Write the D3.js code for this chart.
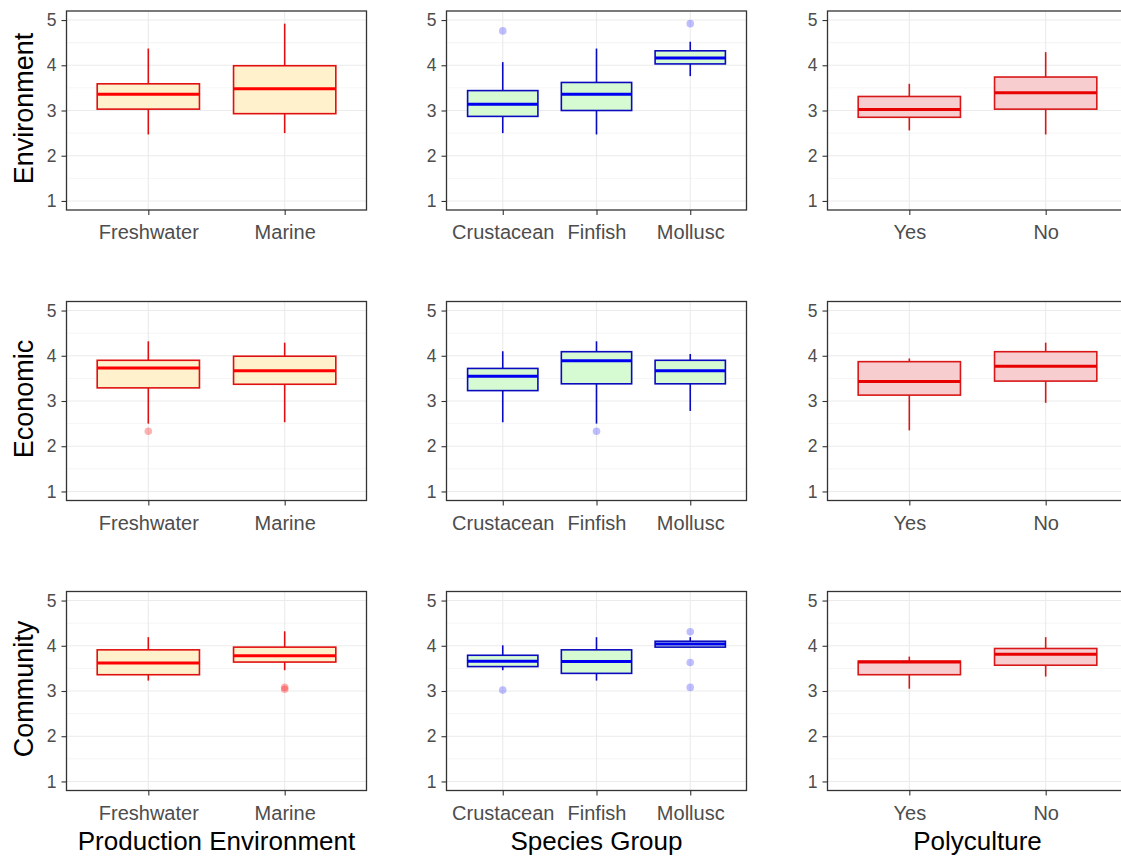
<!DOCTYPE html>
<html>
<head>
<meta charset="utf-8">
<script src="https://cdn.jsdelivr.net/npm/d3@7"></script>
<style>
  html, body { margin: 0; padding: 0; background: #ffffff; }
  svg { display: block; font-family: "Liberation Sans", Arial, sans-serif; }
</style>
</head>
<body>
<svg id="chart" width="1121" height="856"></svg>
<script>
// ---------------- data ----------------
const rowLabels = ["Environment", "Economic", "Community"];
const colTitles = ["Production Environment", "Species Group", "Polyculture"];

const productionCats = ["Freshwater", "Marine"];
const speciesCats = ["Crustacean", "Finfish", "Mollusc"];
const polyCats = ["Yes", "No"];

const yTicks = [1, 2, 3, 4, 5];
const yMinorTicks = [1.5, 2.5, 3.5, 4.5];

// box stats per category: [lower whisker, Q1, median, Q3, upper whisker]
const envProduction = [[2.47, 3.03, 3.36, 3.59, 4.37], [2.50, 2.93, 3.48, 3.99, 4.92]];
const envProductionOut = [[], []];
const envSpecies = [[2.50, 2.87, 3.14, 3.44, 4.07], [2.47, 3.00, 3.36, 3.62, 4.37], [3.76, 4.03, 4.16, 4.32, 4.52]];
const envSpeciesOut = [[4.76], [], [4.92]];
const envPoly = [[2.56, 2.85, 3.02, 3.31, 3.59], [2.47, 3.03, 3.39, 3.74, 4.29]];
const envPolyOut = [[], []];

const ecoProduction = [[2.50, 3.29, 3.73, 3.90, 4.32], [2.53, 3.37, 3.67, 3.99, 4.29]];
const ecoProductionOut = [[2.33], []];
const ecoSpecies = [[2.53, 3.23, 3.55, 3.72, 4.10], [2.50, 3.38, 3.89, 4.09, 4.32], [2.78, 3.38, 3.67, 3.90, 4.04]];
const ecoSpeciesOut = [[], [2.33], []];
const ecoPoly = [[2.35, 3.13, 3.43, 3.87, 3.94], [2.96, 3.44, 3.77, 4.09, 4.29]];
const ecoPolyOut = [[], []];

const comProduction = [[3.23, 3.36, 3.62, 3.91, 4.19], [3.46, 3.64, 3.78, 3.97, 4.32]];
const comProductionOut = [[], [3.08, 3.04]];
const comSpecies = [[3.46, 3.54, 3.66, 3.79, 4.01], [3.23, 3.39, 3.65, 3.91, 4.19], [3.97, 3.97, 4.04, 4.10, 4.19]];
const comSpeciesOut = [[3.02], [], [4.31, 3.63, 3.08]];
const comPoly = [[3.05, 3.36, 3.64, 3.66, 3.76], [3.32, 3.57, 3.81, 3.94, 4.19]];
const comPolyOut = [[], []];

// ---------------- styles ----------------
const colStyles = [
  { fill: "#FFF1CC", stroke: "#E01010", median: "#FF0000", out: "rgba(255,0,0,0.3)" },
  { fill: "#D6FBD2", stroke: "#0A0ABF", median: "#0000F0", out: "rgba(0,0,255,0.25)" },
  { fill: "#F8CDD0", stroke: "#D81818", median: "#E80000", out: "rgba(255,0,0,0.3)" }
];

const panels = [
  [[productionCats, envProduction, envProductionOut], [speciesCats, envSpecies, envSpeciesOut], [polyCats, envPoly, envPolyOut]],
  [[productionCats, ecoProduction, ecoProductionOut], [speciesCats, ecoSpecies, ecoSpeciesOut], [polyCats, ecoPoly, ecoPolyOut]],
  [[productionCats, comProduction, comProductionOut], [speciesCats, comSpecies, comSpeciesOut], [polyCats, comPoly, comPolyOut]]
];

// ---------------- layout ----------------
const colLeft = [66.5, 446.5, 827.5];
const rowTop = [11, 301.5, 591.5];
const PW = 300, PH = 199;

const svg = d3.select("#chart");

panels.forEach((row, ri) => {
  row.forEach(([cats, stats, outs], ci) => {
    const x0 = colLeft[ci], y0 = rowTop[ri];
    const st = colStyles[ci];
    const g = svg.append("g").attr("transform", `translate(${x0},${y0})`);

    const x = d3.scalePoint().domain(cats).range([0, PW]).padding(0.6);
    const y = d3.scaleLinear().domain([0.8, 5.2]).range([PH, 0]);
    const bw = x.step() * 0.75;

    // grid
    g.append("g").selectAll("line.minor").data(yMinorTicks).join("line")
      .attr("x1", 0).attr("x2", PW).attr("y1", d => y(d)).attr("y2", d => y(d))
      .attr("stroke", "#F3F3F3").attr("stroke-width", 0.8);
    g.append("g").selectAll("line.major").data(yTicks).join("line")
      .attr("x1", 0).attr("x2", PW).attr("y1", d => y(d)).attr("y2", d => y(d))
      .attr("stroke", "#EBEBEB").attr("stroke-width", 1.1);
    g.append("g").selectAll("line.vmajor").data(cats).join("line")
      .attr("x1", d => x(d)).attr("x2", d => x(d)).attr("y1", 0).attr("y2", PH)
      .attr("stroke", "#EBEBEB").attr("stroke-width", 1.1);

    // boxes
    const boxes = g.append("g").selectAll("g.box").data(cats.map((c, i) => ({ c, s: stats[i], o: outs[i] })))
      .join("g");
    boxes.append("line")
      .attr("x1", d => x(d.c)).attr("x2", d => x(d.c))
      .attr("y1", d => y(d.s[4])).attr("y2", d => y(d.s[3]))
      .attr("stroke", st.stroke).attr("stroke-width", 1.6);
    boxes.append("line")
      .attr("x1", d => x(d.c)).attr("x2", d => x(d.c))
      .attr("y1", d => y(d.s[1])).attr("y2", d => y(d.s[0]))
      .attr("stroke", st.stroke).attr("stroke-width", 1.6);
    boxes.append("rect")
      .attr("x", d => x(d.c) - bw / 2).attr("width", bw)
      .attr("y", d => y(d.s[3])).attr("height", d => y(d.s[1]) - y(d.s[3]))
      .attr("fill", st.fill).attr("stroke", st.stroke).attr("stroke-width", 1.6);
    boxes.append("line")
      .attr("x1", d => x(d.c) - bw / 2).attr("x2", d => x(d.c) + bw / 2)
      .attr("y1", d => y(d.s[2])).attr("y2", d => y(d.s[2]))
      .attr("stroke", st.median).attr("stroke-width", 3);
    boxes.selectAll("circle").data(d => d.o.map(v => ({ c: d.c, v }))).join("circle")
      .attr("cx", d => x(d.c)).attr("cy", d => y(d.v)).attr("r", 3.8)
      .attr("fill", st.out);

    // border
    g.append("rect").attr("x", 0).attr("y", 0).attr("width", PW).attr("height", PH)
      .attr("fill", "none").attr("stroke", "#333333").attr("stroke-width", 1.3);

    // y axis
    const ya = g.append("g").call(d3.axisLeft(y).tickValues(yTicks).tickSize(5).tickPadding(5).tickFormat(d3.format("d")));
    ya.select(".domain").remove();
    ya.selectAll(".tick line").attr("stroke", "#333333").attr("stroke-width", 1.1);
    ya.selectAll(".tick text").attr("fill", "#4D4D4D").attr("font-size", 17.5)
      .attr("font-family", "Liberation Sans, Arial, sans-serif");

    // x axis
    const xa = g.append("g").attr("transform", `translate(0,${PH})`)
      .call(d3.axisBottom(x).tickSize(5).tickPadding(10));
    xa.select(".domain").remove();
    xa.selectAll(".tick line").attr("stroke", "#333333").attr("stroke-width", 1.1);
    xa.selectAll(".tick text").attr("fill", "#4D4D4D").attr("font-size", 20)
      .attr("font-family", "Liberation Sans, Arial, sans-serif");

    // y title
    if (ci === 0) {
      svg.append("text")
        .attr("transform", `translate(33,${y0 + PH / 2 - 2}) rotate(-90)`)
        .attr("text-anchor", "middle")
        .attr("font-size", 27).attr("fill", "#000")
        .text(rowLabels[ri]);
    }
    // x title
    if (ri === 2) {
      svg.append("text")
        .attr("x", x0 + PW / 2).attr("y", y0 + PH + 59)
        .attr("text-anchor", "middle")
        .attr("font-size", 26).attr("fill", "#000")
        .text(colTitles[ci]);
    }
  });
});
</script>
</body>
</html>
